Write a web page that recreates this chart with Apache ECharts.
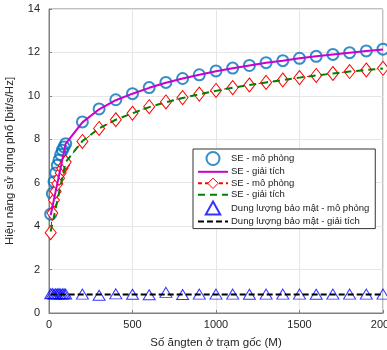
<!DOCTYPE html>
<html>
<head>
<meta charset="utf-8">
<script src="https://cdn.jsdelivr.net/npm/echarts@6/dist/echarts.min.js"></script>
<style>
  html, body { margin: 0; padding: 0; background: #fff; }
  #chart { width: 387px; height: 350px; }
</style>
</head>
<body>
<div id="chart"></div>
<script>
// so anten (M) cho mo phong va giai tich
var mSim = [10, 20, 30, 40, 50, 60, 70, 80, 90, 100, 200, 300, 400, 500, 600, 700, 800, 900, 1000,
  1100, 1200, 1300, 1400, 1500, 1600, 1700, 1800, 1900, 2000]
var mAna = [10, 100, 200, 300, 400, 500, 600, 700, 800, 900, 1000,
  1100, 1200, 1300, 1400, 1500, 1600, 1700, 1800, 1900, 2000]

// SE (tren) - mo phong / giai tich
var seSim1 = [4.55, 5.5, 6.05, 6.45, 6.8, 7.05, 7.3, 7.5, 7.65, 7.8, 8.8, 9.4, 9.82, 10.1, 10.38, 10.62,
  10.8, 10.97, 11.15, 11.28, 11.4, 11.53, 11.62, 11.73, 11.82, 11.91, 11.99, 12.07, 12.15]
var seAna1 = [4.5, 7.8, 8.78, 9.38, 9.8, 10.1, 10.37, 10.6, 10.8, 10.97, 11.13,
  11.27, 11.4, 11.52, 11.62, 11.73, 11.82, 11.91, 11.99, 12.07, 12.14]

// SE (duoi) - mo phong / giai tich
var seSim2 = [3.7, 4.6, 5.2, 5.6, 5.95, 6.2, 6.45, 6.65, 6.8, 6.95, 7.9, 8.5, 8.9, 9.2, 9.5, 9.72,
  9.92, 10.08, 10.25, 10.38, 10.5, 10.62, 10.73, 10.84, 10.94, 11.03, 11.12, 11.19, 11.27]
var seAna2 = [3.75, 6.95, 7.92, 8.5, 8.9, 9.2, 9.48, 9.7, 9.9, 10.07, 10.23,
  10.37, 10.5, 10.62, 10.73, 10.84, 10.94, 11.03, 11.12, 11.19, 11.26]

// dung luong bao mat
var scSim = [0.88, 0.9, 0.87, 0.89, 0.88, 0.9, 0.87, 0.88, 0.89, 0.87, 0.87, 0.82, 0.88, 0.86, 0.84, 0.95,
  0.85, 0.87, 0.87, 0.87, 0.86, 0.87, 0.87, 0.87, 0.86, 0.87, 0.87, 0.87, 0.87]
var scAna = [0.85, 0.85, 0.85, 0.85, 0.85, 0.85, 0.85, 0.85, 0.85, 0.85, 0.85,
  0.85, 0.85, 0.85, 0.85, 0.85, 0.85, 0.85, 0.85, 0.85, 0.85]

var names = ['SE - mô phỏng', 'SE - giải tích', 'SE - mô phỏng ', 'SE - giải tích ',
  'Dung lượng bảo mật - mô phỏng', 'Dung lượng bảo mật - giải tích']

function pairs(xs, ys) {
  return xs.map(function (x, i) { return [x, ys[i]] })
}

var font = '"Liberation Sans", Arial, sans-serif'
var hideSym = { opacity: 0 }
var chart = echarts.init(document.getElementById('chart'), null, { renderer: 'canvas' })

chart.setOption({
  animation: false,
  grid: {
    left: 49, right: 4, top: 9, bottom: 37,
    outerBoundsMode: 'none',
    show: true, borderColor: '#808080', borderWidth: 1
  },
  legend: {
    data: [
      { name: names[0] },
      { name: names[1], itemStyle: hideSym },
      { name: names[2], itemStyle: { color: '#fff', borderColor: '#FF0000', borderWidth: 1 } },
      { name: names[3], itemStyle: hideSym },
      { name: names[4], icon: 'path://M5,0 L10,9 L0,9 Z' },
      { name: names[5], itemStyle: hideSym }
    ],
    orient: 'vertical',
    left: 193, top: 149,
    width: 167,
    padding: [2, 6, 2, 4],
    itemGap: 0.6,
    itemWidth: 30, itemHeight: 13,
    symbolKeepAspect: true,
    backgroundColor: '#fff',
    borderColor: '#333', borderWidth: 1, borderRadius: 0,
    textStyle: { fontFamily: font, fontSize: 9.5, color: '#222', padding: [0, 0, 0, -2] }
  },
  xAxis: {
    type: 'value', min: 0, max: 2000, interval: 500,
    name: 'Số ăngten ở trạm gốc (M)', nameLocation: 'middle', nameGap: 24,
    nameTextStyle: { fontFamily: font, fontSize: 11.5, color: '#262626' },
    axisLine: { show: true, lineStyle: { color: '#808080' } },
    axisTick: { inside: true, length: 3, lineStyle: { color: '#808080' } },
    axisLabel: {
      fontFamily: font, fontSize: 11, color: '#262626', margin: 6,
      formatter: function (v) { return String(v) }
    },
    splitLine: { show: true, lineStyle: { color: '#e6e6e6' } }
  },
  yAxis: {
    type: 'value', min: 0, max: 14, interval: 2,
    name: 'Hiệu năng sử dụng phổ [bit/s/Hz]', nameLocation: 'middle', nameGap: 33,
    nameTextStyle: { fontFamily: font, fontSize: 11.5, color: '#262626' },
    axisLine: { show: true, lineStyle: { color: '#808080' } },
    axisTick: { inside: true, length: 3, lineStyle: { color: '#808080' } },
    axisLabel: { fontFamily: font, fontSize: 11, color: '#262626', margin: 9 },
    splitLine: { show: true, lineStyle: { color: '#e6e6e6' } }
  },
  series: [
    {
      name: names[0], type: 'scatter', data: pairs(mSim, seSim1), z: 3,
      symbol: 'circle', symbolSize: 11,
      itemStyle: { color: 'rgba(0,0,0,0)', borderColor: '#0072BD', borderWidth: 2 }
    },
    {
      name: names[1], type: 'line', data: pairs(mAna, seAna1), z: 4,
      symbol: 'none', color: '#CC00CC',
      lineStyle: { color: '#CC00CC', width: 2 }
    },
    {
      name: names[2], type: 'line', data: pairs(mSim, seSim2), z: 3,
      symbol: 'diamond', symbolSize: [11, 14], showSymbol: true,
      color: '#FF0000',
      lineStyle: { color: '#FF0000', width: 1, type: [4, 3] },
      itemStyle: { color: '#fff', borderColor: '#FF0000', borderWidth: 1 }
    },
    {
      name: names[3], type: 'line', data: pairs(mAna, seAna2), z: 4,
      symbol: 'none', color: '#008000',
      lineStyle: { color: '#008000', width: 2, type: [7, 5] }
    },
    {
      name: names[4], type: 'scatter', data: pairs(mSim, scSim), z: 3,
      symbol: 'triangle', symbolSize: [12, 10],
      itemStyle: { color: 'rgba(0,0,0,0)', borderColor: '#0000FF', borderWidth: 1 }
    },
    {
      name: names[5], type: 'line', data: pairs(mAna, scAna), z: 4,
      symbol: 'none', color: '#000',
      lineStyle: { color: '#000', width: 2, type: [6, 3] }
    }
  ]
})
</script>
</body>
</html>
